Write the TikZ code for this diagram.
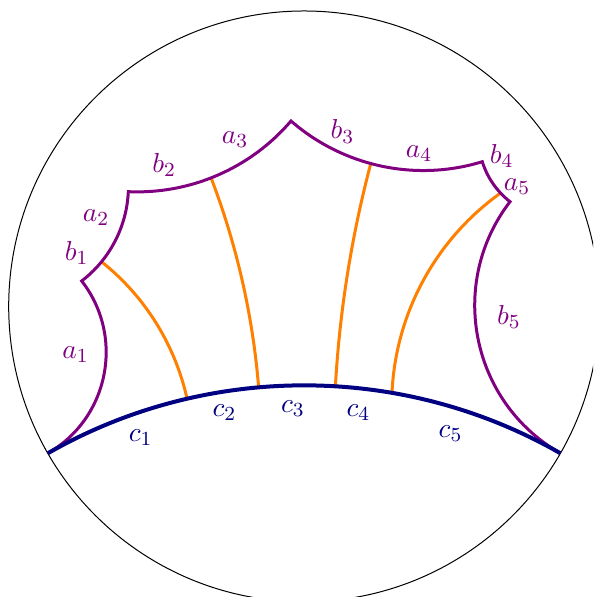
\documentclass[tikz,border=0pt]{standalone}
\definecolor{pur}{RGB}{128,0,128}
\definecolor{orng}{RGB}{255,128,0}
\definecolor{nav}{RGB}{0,0,128}
\begin{document}
\begin{tikzpicture}[x=0.4pt,y=0.4pt,
  purp/.style={line width=1.2pt,draw=pur},
  orl/.style={line width=1.2pt,draw=orng},
  bll/.style={line width=1.6pt,draw=nav},
  plab/.style={text=pur,inner sep=0pt,font=\fontsize{11.3}{13}\selectfont},
  blab/.style={text=nav,inner sep=0pt,font=\fontsize{11.3}{13}\selectfont}]
\useasboundingbox (0,0) rectangle (593,597);
\clip (0,0) rectangle (593,597);
\coordinate (C0) at (304.1,290.6);
\draw[line width=0.4pt] (C0) circle[radius=295.4];
% corners
\coordinate (IL) at (47.8,143.7);
\coordinate (IR) at (560.4,143.7);
\coordinate (K1) at (81.7,316);
\coordinate (K2) at (128.3,405.3);
\coordinate (K3) at (291,476);
\coordinate (K4) at (482.3,435.3);
\coordinate (K5) at (510,395.3);
\coordinate (E1) at (187,198.5);
\coordinate (E2) at (258.6,210);
\coordinate (E3) at (335.4,211);
\coordinate (E4) at (392,204.5);
% purple boundary (coordinates first)
\path (IL) to[out=29.8,in=-52.07,looseness=1.029] (K1)
  to[out=37.5,in=-92.6,looseness=0.893] coordinate[pos=0.265] (O1) (K2)
  to[out=-2.5,in=-130.5,looseness=0.897] coordinate[pos=0.46] (O2) (K3)
  to[out=-41.1,in=-162.9,looseness=0.909] coordinate[pos=0.446] (O3) (K4)
  to[out=-72.8,in=142.2,looseness=0.8715] coordinate[pos=0.741] (O4) (K5)
  to[out=232.46,in=150.2,looseness=1.027] (IR);
% orange perpendiculars
\draw[orl] (O1) to[out=-38.49,in=102.6,looseness=0.8765] (E1);
\draw[orl] (O2) to[out=-69.07,in=94.67,looseness=0.856] (E2);
\draw[orl] (O3) to[out=255.2,in=86.76,looseness=0.854] (E3);
\draw[orl] (O4) to[out=215.53,in=87.34,looseness=0.8964] (E4);
% purple
\draw[purp] (IL) to[out=29.8,in=-52.07,looseness=1.029] (K1)
  to[out=37.5,in=-92.6,looseness=0.893] (K2)
  to[out=-2.5,in=-130.5,looseness=0.897] (K3)
  to[out=-41.1,in=-162.9,looseness=0.909] (K4)
  to[out=-72.8,in=142.2,looseness=0.8715] (K5)
  to[out=232.46,in=150.2,looseness=1.027] (IR);
% blue
\draw[bll] (IL) to[out=29.8,in=150.2,looseness=0.9118] (IR);
% labels
\node[plab] (la1) at (75.5,242.5) {$a_1$};
\node[plab] (lb1) at (76.7,343.7) {$b_1$};
\node[plab] (la2) at (96,379.5) {$a_2$};
\node[plab] (lb2) at (164.2,432) {$b_2$};
\node[plab] (la3) at (235,457) {$a_3$};
\node[plab] (lb3) at (342.5,465.5) {$b_3$};
\node[plab] (la4) at (419,443.7) {$a_4$};
\node[plab] (lb4) at (501.7,441) {$b_4$};
\node[plab] (la5) at (517,410) {$a_5$};
\node[plab] (lb5) at (509,280.3) {$b_5$};
\node[blab] (lc1) at (140.7,159.5) {$c_1$};
\node[blab] (lc2) at (224.5,184) {$c_2$};
\node[blab] (lc3) at (293,188) {$c_3$};
\node[blab] (lc4) at (358.5,184.7) {$c_4$};
\node[blab] (lc5) at (450.5,163) {$c_5$};
\end{tikzpicture}
\end{document}
